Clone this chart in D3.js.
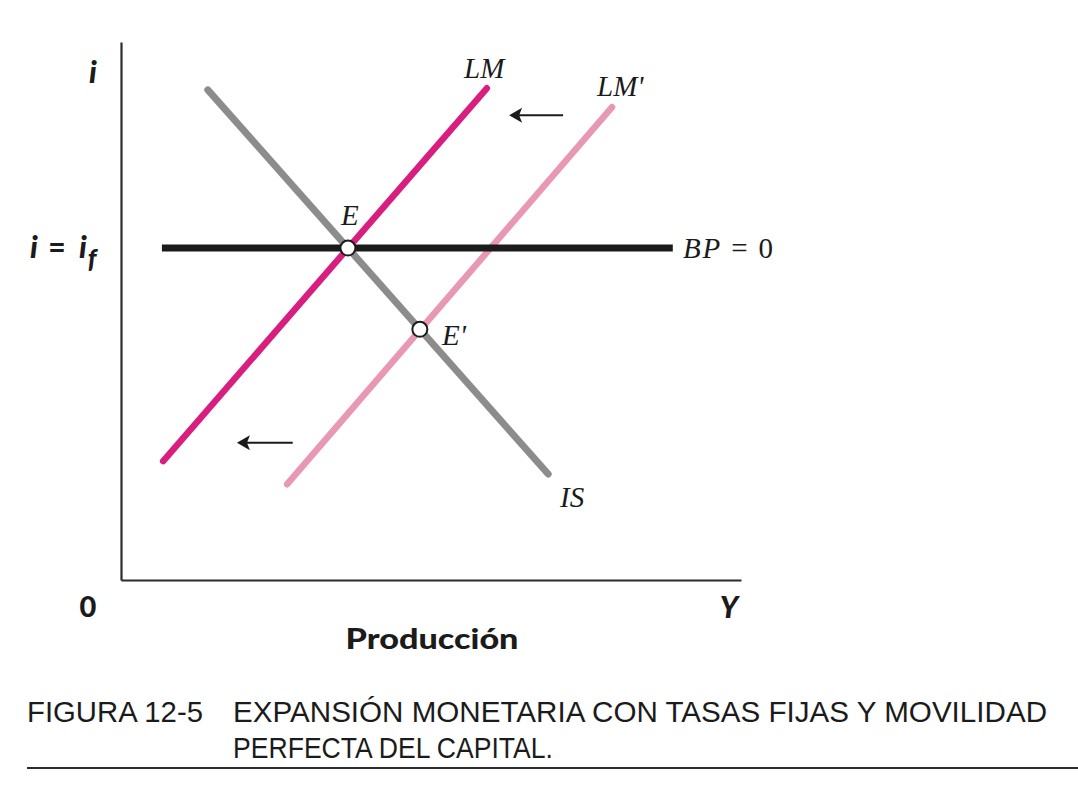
<!DOCTYPE html>
<html>
<head>
<meta charset="utf-8">
<script src="https://cdn.jsdelivr.net/npm/d3@7"></script>
<style>
  html, body { margin: 0; padding: 0; background: #fff; }
  svg { display: block; }
</style>
</head>
<body>
<div id="chart"></div>
<script>
// ---- data (arbitrary units, 0..100 on both axes) ----
const isCurve   = [{x: 14.0, y: 91.1}, {x: 68.9, y: 19.7}];
const lmCurve   = [{x: 6.8,  y: 22.1}, {x: 59.0, y: 91.4}];
const lm2Curve  = [{x: 26.8, y: 17.8}, {x: 79.2, y: 87.9}];
const bpCurve   = [{x: 6.6,  y: 61.7}, {x: 89.0, y: 61.7}];
const equilibria = [{name: "E", x: 36.6, y: 61.7}, {name: "E'", x: 48.2, y: 46.6}];
const shiftArrows = [
  {x1: 71.3, x2: 62.6, y: 86.4},
  {x1: 27.7, x2: 18.7, y: 25.5}
];
const captionNumber = "FIGURA 12-5";
const captionLines = ["EXPANSIÓN MONETARIA CON TASAS FIJAS Y MOVILIDAD", "PERFECTA DEL CAPITAL."];

const W = 1078, H = 804;
const svg = d3.select("#chart").append("svg").attr("width", W).attr("height", H);

const x = d3.scaleLinear().domain([0, 100]).range([121, 741]);
const y = d3.scaleLinear().domain([0, 100]).range([580, 42]);

const line = d3.line().x(d => x(d.x)).y(d => y(d.y));

// axes (no ticks)
const axisColor = "#2b2b2b";
svg.append("g").attr("transform", `translate(0,${y(0)})`)
  .call(d3.axisBottom(x).ticks(0).tickSize(0))
  .call(g => g.select(".domain").attr("stroke", axisColor).attr("stroke-width", 2.2));
svg.append("g").attr("transform", `translate(${x(0)},0)`)
  .call(d3.axisLeft(y).ticks(0).tickSize(0))
  .call(g => g.select(".domain").attr("stroke", axisColor).attr("stroke-width", 2.2));

// curves
const curves = [
  {data: lm2Curve, color: "#e897b5", w: 6.5},
  {data: isCurve,  color: "#8c8c8c", w: 7},
  {data: lmCurve,  color: "#d81f80", w: 6.5},
  {data: bpCurve,  color: "#1b1b1b", w: 7}
];
svg.selectAll("path.curve").data(curves).join("path")
  .attr("class", "curve")
  .attr("d", d => line(d.data))
  .attr("fill", "none")
  .attr("stroke", d => d.color)
  .attr("stroke-width", d => d.w)
  .attr("stroke-linecap", (d, i) => i === 3 ? "butt" : "round");

// equilibrium points
svg.selectAll("circle.eq").data(equilibria).join("circle")
  .attr("class", "eq")
  .attr("cx", d => x(d.x)).attr("cy", d => y(d.y)).attr("r", 7.5)
  .attr("fill", "#fff").attr("stroke", "#1b1b1b").attr("stroke-width", 2);

// arrows
svg.selectAll("line.arrow").data(shiftArrows).join("line")
  .attr("class", "arrow")
  .attr("x1", d => x(d.x1)).attr("x2", d => x(d.x2) + 6)
  .attr("y1", d => y(d.y)).attr("y2", d => y(d.y))
  .attr("stroke", "#1b1b1b").attr("stroke-width", 2);
svg.selectAll("path.ahead").data(shiftArrows).join("path")
  .attr("class", "ahead")
  .attr("d", d => {
    const tx = x(d.x2), ty = y(d.y);
    return `M${tx},${ty} L${tx + 13},${ty - 7.5} L${tx + 10},${ty} L${tx + 13},${ty + 7.5} Z`;
  })
  .attr("fill", "#1b1b1b");

// serif italic curve labels
const serif = "'Liberation Serif', 'DejaVu Serif', serif";
const labels = [
  {t: "LM", px: 464, py: 78},
  {t: "LM'", px: 597, py: 96},
  {t: "E", px: 341, py: 225},
  {t: "E'", px: 442, py: 345},
  {t: "IS", px: 560, py: 507},
  {t: "BP = 0", px: 683, py: 258}
];
svg.selectAll("text.lbl").data(labels).join("text")
  .attr("class", "lbl")
  .attr("x", d => d.px).attr("y", d => d.py)
  .attr("font-family", serif).attr("font-style", "italic")
  .attr("font-size", 29).attr("fill", "#1b1b1b")
  .each(function(d) {
    const el = d3.select(this);
    if (d.t === "BP = 0") {
      el.attr("textLength", 90).attr("lengthAdjust", "spacing");
      el.append("tspan").text("BP");
      el.append("tspan").attr("font-style", "normal").text(" = 0");
    } else {
      el.text(d.t);
    }
  });

// sans bold axis labels
const sans = "Lato, 'Open Sans', 'DejaVu Sans', sans-serif";
const bold = sel => sel.attr("font-family", sans).attr("font-weight", 900).attr("fill", "#1b1b1b");
svg.append("text").attr("x", 93).attr("y", 83).attr("text-anchor", "middle")
  .call(bold).attr("font-style", "italic").attr("font-size", 31).text("i");
svg.append("text").attr("x", 34).attr("y", 258).attr("text-anchor", "middle")
  .call(bold).attr("font-style", "italic").attr("font-size", 31).text("i");
svg.append("text").attr("x", 57).attr("y", 258).attr("text-anchor", "middle")
  .call(bold).attr("font-size", 30).text("=");
svg.append("text").attr("x", 83).attr("y", 258).attr("text-anchor", "middle")
  .call(bold).attr("font-style", "italic").attr("font-size", 31).text("i");
svg.append("text").attr("x", 92).attr("y", 268).attr("text-anchor", "middle")
  .call(bold).attr("font-style", "italic").attr("font-size", 26).text("f");

svg.append("text").attr("x", 88).attr("y", 617).attr("text-anchor", "middle")
  .call(bold).attr("font-size", 29).text("0");
svg.append("text").attr("x", 729).attr("y", 618).attr("text-anchor", "middle")
  .call(bold).attr("font-style", "italic").attr("font-size", 30).text("Y");
svg.append("text").attr("x", 432).attr("y", 649).attr("text-anchor", "middle")
  .call(bold).attr("font-size", 28)
  .attr("textLength", 173).attr("lengthAdjust", "spacingAndGlyphs")
  .text("Producción");

// caption
const capFont = "'Liberation Sans', Arimo, sans-serif";
const cap = sel => sel.attr("font-family", capFont).attr("font-weight", 400)
  .attr("font-size", 29).attr("fill", "#1b1b1b").attr("lengthAdjust", "spacingAndGlyphs");
svg.append("text").attr("x", 27).attr("y", 722).call(cap)
  .attr("textLength", 176).text(captionNumber);
svg.append("text").attr("x", 233).attr("y", 722).call(cap)
  .attr("textLength", 814).text(captionLines[0]);
svg.append("text").attr("x", 233).attr("y", 758).call(cap)
  .attr("textLength", 320).text(captionLines[1]);
svg.append("line").attr("x1", 27).attr("x2", 1078).attr("y1", 768).attr("y2", 768)
  .attr("stroke", "#2b2b2b").attr("stroke-width", 2);
</script>
</body>
</html>
